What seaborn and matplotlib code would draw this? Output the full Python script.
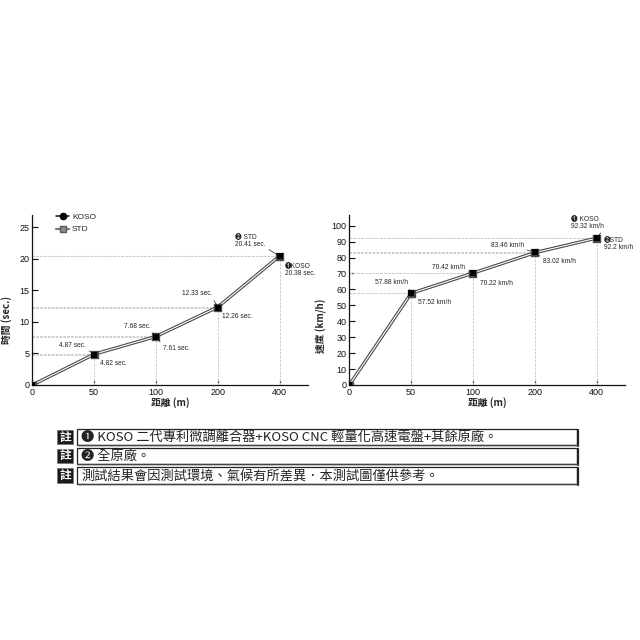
import matplotlib
matplotlib.use('Agg')
import matplotlib.pyplot as plt
import matplotlib.patheffects as pe
from matplotlib.patches import Rectangle
from matplotlib.lines import Line2D
import seaborn as sns
import pandas as pd

# ---------------- data ----------------
distances = ['0', '50', '100', '200', '400']
series_names = ['KOSO', 'STD']
koso_time = [0, 4.82, 7.61, 12.26, 20.38]
std_time = [0, 4.87, 7.68, 12.33, 20.41]
koso_speed = [0, 57.88, 70.42, 83.46, 92.32]
std_speed = [0, 57.52, 70.22, 83.02, 92.2]
time_ticks = [0, 5, 10, 15, 20, 25]
speed_ticks = [0, 10, 20, 30, 40, 50, 60, 70, 80, 90, 100]
time_ylabel = '時間 (sec.)'
speed_ylabel = '速度 (km/h)'
x_label = '距離 (m)'
time_unit = 'sec.'
speed_unit = 'km/h'
series_marks = {'KOSO': '❶', 'STD': '❷'}
note_tag = '註'
notes = ['❶ KOSO 二代專利微調離合器+KOSO CNC 輕量化高速電盤+其餘原廠。',
         '❷ 全原廠。',
         '測試結果會因測試環境、氣候有所差異．本測試圖僅供參考。']

# ---------------- style ----------------
sns.set_style('ticks')
plt.rcParams['font.family'] = ['Liberation Sans', 'Noto Sans CJK TC', 'DejaVu Sans']
CJK = ['Noto Sans CJK TC', 'DejaVu Sans']
LAT = ['Liberation Sans', 'Noto Sans CJK TC', 'DejaVu Sans']

W = H = 640
fig = plt.figure(figsize=(6.4, 6.4), dpi=100)
fig.patch.set_facecolor('white')


def rect(x0, yt, x1, yb):
    return [x0 / W, 1 - yb / H, (x1 - x0) / W, (yb - yt) / H]


axL = fig.add_axes(rect(32.3, 215, 308, 385))
axR = fig.add_axes(rect(349.3, 215, 625, 385))


def draw(ax, koso, std, ylim, yticks, ylabel, unit, upper, offs_up, offs_dn, ylab_pos, legend):
    pos = list(range(len(distances)))
    df = pd.DataFrame({'pos': pos * 2,
                       'value': koso + std,
                       'series': ['KOSO'] * len(pos) + ['STD'] * len(pos)})
    # reference dashed lines
    for i in pos[1:]:
        for v in (koso[i], std[i]):
            ax.hlines(v, 0, i, colors='#cfcfcf', lw=0.75, linestyles=(0, (2.5, 1.2)), zorder=1)
        ax.vlines(i, 0, max(koso[i], std[i]), colors='#cfcfcf', lw=0.75,
                  linestyles=(0, (2.5, 1.2)), zorder=1)
    sns.lineplot(data=df, x='pos', y='value', hue='series', style='series',
                 hue_order=['KOSO', 'STD'], style_order=['KOSO', 'STD'],
                 markers={'KOSO': 'o', 'STD': 's'}, dashes=False,
                 palette={'KOSO': '#111111', 'STD': '#ffffff'},
                 markersize=3.6, linewidth=0.9, ax=ax, legend=False)
    lines = [l for l in ax.lines if l.get_marker() in ('o', 's')]
    for l in lines:
        if l.get_marker() == 's':
            l.set_linewidth(0.8)
            l.set_markerfacecolor('#6a6a6a')
            l.set_markeredgecolor('#3a3a3a')
            l.set_markeredgewidth(0.5)
            l.set_path_effects([pe.Stroke(linewidth=2.4, foreground='#4a4a4a'), pe.Normal()])
            l.set_zorder(3)
        else:
            l.set_markerfacecolor('#000000')
            l.set_markeredgecolor('#000000')
            l.set_zorder(2.5)
    # KOSO markers on top
    sns.scatterplot(x=pos, y=koso, marker='s', s=14, color='#000000', linewidth=0,
                    ax=ax, zorder=5, legend=False)
    ax.set_xlim(0, 4.46)
    ax.set_ylim(*ylim)
    ax.set_xticks(pos, distances)
    ax.set_yticks(yticks)
    ax.tick_params(direction='in', length=4, width=0.8, labelsize=6.5, pad=2, colors='#111111')
    for s in ('top', 'right'):
        ax.spines[s].set_visible(False)
    for s in ('left', 'bottom'):
        ax.spines[s].set_linewidth(0.9)
        ax.spines[s].set_color('#111111')
    ax.set_xlabel(x_label, fontsize=7, fontweight='bold', family=CJK, labelpad=0)
    ax.set_ylabel(ylabel, fontsize=7, fontweight='bold', family=CJK, labelpad=0)
    ax.yaxis.set_label_coords(*ylab_pos)
    # annotations
    hi = koso if upper == 'KOSO' else std
    lo = std if upper == 'KOSO' else koso
    lower = 'STD' if upper == 'KOSO' else 'KOSO'
    last = len(pos) - 1
    for i in pos[1:]:
        t_hi = f'{hi[i]:g} {unit}'
        t_lo = f'{lo[i]:g} {unit}'
        if i == last:
            t_hi = f'{series_marks[upper]} {upper}\n' + t_hi
            t_lo = f'{series_marks[lower]}{lower}\n' + t_lo
        ax.annotate(t_hi, xy=(i, hi[i]), xytext=offs_up[i - 1], textcoords='offset points',
                    ha='right', va='bottom', fontsize=4.8, family=LAT, multialignment='left',
                    linespacing=1.0, zorder=6,
                    arrowprops=dict(arrowstyle='-', lw=0.5, color='#222222',
                                    shrinkA=0, shrinkB=1.0, relpos=(1, 0)))
        ax.annotate(t_lo, xy=(i, lo[i]), xytext=offs_dn[i - 1], textcoords='offset points',
                    ha='left', va='top', fontsize=4.8, family=LAT, multialignment='left',
                    linespacing=1.0, zorder=6,
                    arrowprops=dict(arrowstyle='-', lw=0.5, color='#222222',
                                    shrinkA=0, shrinkB=1.0, relpos=(0, 1)))
    if legend:
        handles = [Line2D([], [], color='#111111', marker='o', ms=4.5, lw=1.1, mfc='#000000', mec='#000000'),
                   Line2D([], [], color='#7a7a7a', marker='s', ms=4.5, lw=1.6, mfc='#8c8c8c', mec='#5a5a5a')]
        ax.legend(handles, series_names, loc='upper left', bbox_to_anchor=(0.065, 1.045),
                  frameon=False, fontsize=6, handlelength=1.6, handletextpad=0.3,
                  labelspacing=0.55, borderpad=0.2)


draw(axL, koso_time, std_time, (0, 26.9), time_ticks, time_ylabel, time_unit, 'STD',
     offs_up=[(-6, 4), (-4, 5), (-4, 7), (-10, 6)],
     offs_dn=[(4, -4), (5, -6), (3, -4), (4, -5)],
     ylab_pos=(-0.072, 0.38), legend=True)
draw(axR, koso_speed, std_speed, (0, 106.7), speed_ticks, speed_ylabel, speed_unit, 'KOSO',
     offs_up=[(-2, 5), (-6, 1), (-8, 2), (5, 6)],
     offs_dn=[(5, -4), (5, -5), (6, -4), (5, 1)],
     ylab_pos=(-0.08, 0.35), legend=False)

# ---------------- notes ----------------
rows = [(429, 445), (448, 464), (467, 484)]
for (yt, yb), txt in zip(rows, notes):
    # tag box
    fig.patches.append(Rectangle((57 / W, 1 - (yb - 1) / H), 16 / W, (yb - yt - 2) / H,
                                 transform=fig.transFigure, facecolor='#1a1a1a',
                                 edgecolor='#777777', lw=0.6))
    fig.text(65 / W, 1 - ((yt + yb) / 2) / H, note_tag, color='white', fontsize=8.5,
             fontweight='bold', family=CJK, ha='center', va='center')
    # text box
    fig.patches.append(Rectangle((77 / W, 1 - yb / H), 500 / W, (yb - yt) / H,
                                 transform=fig.transFigure, facecolor='white',
                                 edgecolor='#222222', lw=0.9))
    fig.lines.append(Line2D([577.5 / W, 577.5 / W], [1 - (yb + 0.5) / H, 1 - (yt + 1) / H],
                            transform=fig.transFigure, color='#222222', lw=1.6))
    fig.lines.append(Line2D([77 / W, 578 / W], [1 - (yb + 0.4) / H, 1 - (yb + 0.4) / H],
                            transform=fig.transFigure, color='#444444', lw=1.0))
    fig.text(81 / W, 1 - ((yt + yb) / 2 + 0.5) / H, txt, color='#222222', fontsize=9.5,
             family=CJK, ha='left', va='center')

fig.savefig('out.png', dpi=100, facecolor='white')
